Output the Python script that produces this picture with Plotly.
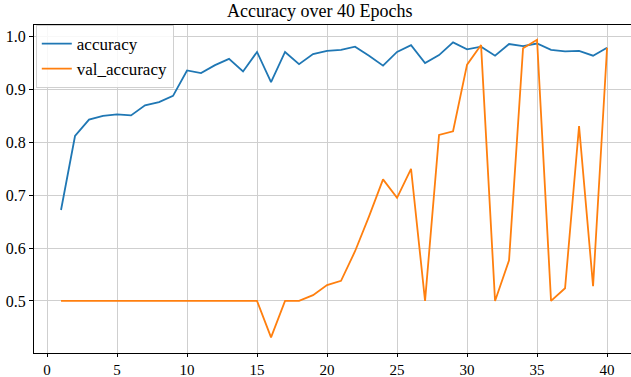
import plotly.graph_objects as go

epochs = list(range(1, 41))
accuracy = [0.672, 0.812, 0.843, 0.850, 0.853, 0.851, 0.870, 0.876, 0.888, 0.936,
            0.931, 0.946, 0.958, 0.934, 0.971, 0.914, 0.971, 0.948, 0.967, 0.973,
            0.975, 0.981, 0.964, 0.945, 0.971, 0.984, 0.950, 0.965, 0.989, 0.976,
            0.981, 0.964, 0.986, 0.982, 0.987, 0.975, 0.972, 0.973, 0.964, 0.979]
val_accuracy = [0.5, 0.5, 0.5, 0.5, 0.5, 0.5, 0.5, 0.5, 0.5, 0.5,
                0.5, 0.5, 0.5, 0.5, 0.5, 0.431, 0.5, 0.5, 0.511, 0.530,
                0.538, 0.594, 0.660, 0.730, 0.695, 0.750, 0.5, 0.814, 0.821, 0.947,
                0.984, 0.5, 0.577, 0.978, 0.994, 0.5, 0.524, 0.831, 0.528, 0.979]
x_ticks = [0, 5, 10, 15, 20, 25, 30, 35, 40]
y_ticks = [0.5, 0.6, 0.7, 0.8, 0.9, 1.0]

font_family = "Liberation Serif"

fig = go.Figure()
fig.add_trace(go.Scatter(x=epochs, y=accuracy, mode="lines", name="accuracy",
                         line=dict(color="#1f77b4", width=1.8)))
fig.add_trace(go.Scatter(x=epochs, y=val_accuracy, mode="lines", name="val_accuracy",
                         line=dict(color="#ff7f0e", width=1.8)))

fig.update_layout(
    width=631, height=377,
    margin=dict(l=34, r=0, t=25, b=24, autoexpand=False),
    paper_bgcolor="white", plot_bgcolor="white",
    font=dict(family=font_family, size=15, color="black"),
    title=dict(text="Accuracy over 40 Epochs", x=302 / 631, xanchor="center",
               xref="paper", y=1 - 11 / 377, yanchor="middle",
               font=dict(family=font_family, size=18, color="black")),
    legend=dict(x=0.003, y=1.0, xanchor="left", yanchor="top",
                bgcolor="rgba(255,255,255,0.85)", bordercolor="#d0d0d0", borderwidth=1,
                font=dict(family=font_family, size=17, color="black"),
                tracegroupgap=0, itemwidth=30),
    showlegend=True,
)
fig.update_xaxes(range=[-0.93, 41.71], tickvals=x_ticks, ticks="outside", ticklen=3,
                 tickcolor="black", showline=True, linecolor="black", linewidth=1,
                 mirror=True, showgrid=True, gridcolor="#cfcfcf", gridwidth=1,
                 zeroline=False, automargin=False,
                 tickfont=dict(family=font_family, size=15, color="black"))
fig.update_yaxes(range=[0.4015, 1.022], tickvals=y_ticks,
                 ticktext=["0.5", "0.6", "0.7", "0.8", "0.9", "1.0"],
                 ticks="outside", ticklen=4, tickcolor="black", showline=True,
                 linecolor="black", linewidth=1, showgrid=True, gridcolor="#cfcfcf",
                 gridwidth=1, zeroline=False, automargin=False,
                 tickfont=dict(family=font_family, size=16, color="black"))

fig.write_html("out.html", config={"displayModeBar": False})

with open("out.html", "r", encoding="utf-8") as f:
    html = f.read()
html = html.replace("<head>", "<head><style>html,body{margin:0;padding:0;overflow:hidden;}</style>", 1)
with open("out.html", "w", encoding="utf-8") as f:
    f.write(html)
